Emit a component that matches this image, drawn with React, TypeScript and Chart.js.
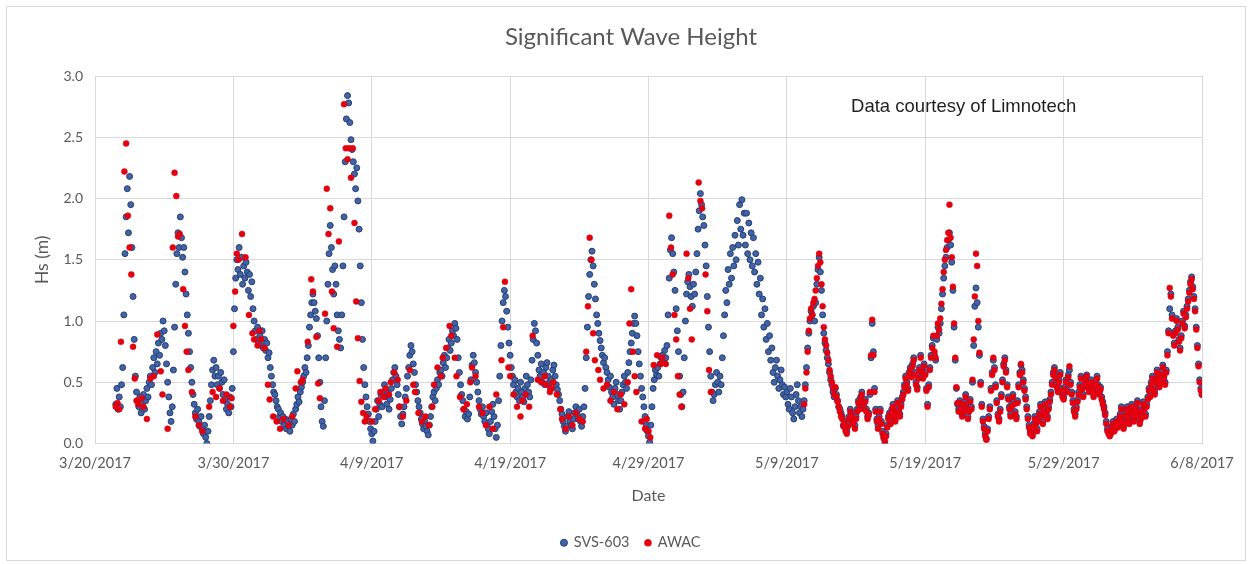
import React, { useEffect, useRef } from "react";
import { Chart, registerables } from "chart.js";

Chart.register(...registerables);

const _ = null;

// Day 0 of the x axis
const DATE_ORIGIN = Date.UTC(2017, 2, 20);

const chartTitle = "Significant Wave Height";
const xTitle = "Date";
const yTitle = "Hs (m)";
const noteText = "Data courtesy of Limnotech";
const seriesNames = ["SVS-603", "AWAC"];

const xMinDay = 0;
const xMaxDay = 80;
const xTickStepDays = 10;
const yMin = 0;
const yMax = 3;
const yTickStep = 0.5;

// SVS-603: 2-hourly samples (12 per day), one row per day starting at day 1 (3/21/2017)
const svsStartDay = 1;
const svsStep = 1 / 12;
const svs603: (number | null)[] = [
  _, _, _, _, _, _, 0.32, 0.45, 0.28, 0.38, 0.30, 0.48,
  0.62, 1.05, 1.55, 1.85, 2.08, 1.72, 2.18, 1.95, 1.60, 1.20, 0.85, 0.55,
  0.42, 0.35, 0.30, 0.38, 0.25, 0.33, 0.40, 0.28, 0.35, 0.45, 0.38, 0.50,
  0.55, 0.48, 0.62, 0.70, 0.58, 0.75, 0.65, 0.82, 0.72, 0.90, 0.85, 1.00,
  0.92, 0.80, 0.65, 0.50, 0.38, 0.25, 0.18, 0.30, 0.60, 0.95, 1.30, 1.55,
  1.72, 1.60, 1.85, 1.68, 1.52, 1.60, 1.40, 1.22, 1.05, 0.90, 0.75, 0.62,
  0.50, 0.40, 0.32, 0.25, 0.20, 0.28, 0.18, 0.14, 0.22, 0.12, 0.08, 0.15,
  0.05, 0.00, 0.10, 0.22, 0.35, 0.48, 0.60, 0.68, 0.55, 0.62, 0.48, 0.55,
  0.45, 0.58, 0.50, 0.40, 0.52, 0.35, 0.28, 0.32, 0.25, 0.38, 0.30, 0.45,
  0.75, 1.10, 1.35, 1.50, 1.42, 1.60, 1.38, 1.52, 1.30, 1.45, 1.35, 1.48,
  1.40, 1.25, 1.38, 1.20, 1.32, 1.10, 1.00, 0.92, 0.85, 0.95, 0.82, 0.88,
  0.80, 0.92, 0.78, 0.85, 0.76, 0.82, 0.70, 0.74, 0.62, 0.55, 0.48, 0.42,
  0.40, 0.35, 0.30, 0.28, 0.22, 0.25, 0.18, 0.22, 0.15, 0.20, 0.12, 0.18,
  0.14, 0.10, 0.20, 0.15, 0.24, 0.18, 0.28, 0.32, 0.38, 0.34, 0.42, 0.46,
  0.50, 0.55, 0.62, 0.58, 0.70, 0.80, 0.95, 1.05, 1.15, 1.22, 1.15, 1.08,
  1.02, 0.88, 0.70, 0.50, 0.30, 0.18, 0.14, 0.35, 0.70, 1.00, 1.30, 1.55,
  1.78, 1.60, 1.42, 1.22, 1.45, 1.30, 1.05, 0.92, 0.85, 0.78, 1.05, 1.45,
  1.85, 2.30, 2.65, 2.84, 2.78, 2.62, 2.48, 2.40, 2.30, 2.20, 2.08, 2.25,
  1.98, 1.75, 1.45, 1.15, 0.85, 0.62, 0.48, 0.38, 0.30, 0.24, 0.18, 0.12,
  0.08, 0.02, 0.10, 0.18, 0.28, 0.35, 0.22, 0.32, 0.40, 0.30, 0.42, 0.48,
  0.38, 0.32, 0.42, 0.28, 0.36, 0.45, 0.52, 0.58, 0.62, 0.55, 0.48, 0.40,
  0.30, 0.22, 0.16, 0.24, 0.30, 0.38, 0.45, 0.55, 0.62, 0.72, 0.80, 0.75,
  0.65, 0.58, 0.48, 0.42, 0.35, 0.30, 0.25, 0.20, 0.16, 0.12, 0.18, 0.14,
  0.10, 0.07, 0.15, 0.22, 0.30, 0.38, 0.42, 0.35, 0.45, 0.52, 0.48, 0.58,
  0.60, 0.55, 0.66, 0.72, 0.62, 0.70, 0.78, 0.85, 0.76, 0.82, 0.92, 0.88,
  0.98, 0.94, 0.85, 0.70, 0.58, 0.48, 0.40, 0.35, 0.28, 0.22, 0.26, 0.20,
  0.24, 0.38, 0.52, 0.64, 0.72, 0.66, 0.58, 0.50, 0.42, 0.35, 0.28, 0.24,
  0.30, 0.22, 0.18, 0.25, 0.15, 0.12, 0.08, 0.18, 0.26, 0.32, 0.22, 0.12,
  0.05, 0.15, 0.35, 0.55, 0.80, 1.00, 1.15, 1.25, 1.20, 1.08, 0.95, 0.82,
  0.72, 0.62, 0.55, 0.48, 0.52, 0.42, 0.38, 0.45, 0.35, 0.50, 0.42, 0.38,
  0.34, 0.45, 0.55, 0.48, 0.42, 0.38, 0.52, 0.68, 0.85, 0.98, 0.92, 0.82,
  0.72, 0.60, 0.55, 0.65, 0.50, 0.58, 0.48, 0.62, 0.66, 0.55, 0.50, 0.45,
  0.52, 0.60, 0.64, 0.55, 0.48, 0.44, 0.40, 0.35, 0.28, 0.24, 0.18, 0.14,
  0.10, 0.14, 0.22, 0.26, 0.18, 0.15, 0.12, 0.20, 0.25, 0.30, 0.24, 0.20,
  0.28, 0.18, 0.14, 0.22, 0.30, 0.45, 0.70, 0.95, 1.20, 1.38, 1.50, 1.57,
  1.45, 1.30, 1.18, 1.05, 0.98, 0.90, 0.84, 0.78, 0.72, 0.66, 0.70, 0.62,
  0.58, 0.52, 0.46, 0.55, 0.42, 0.38, 0.32, 0.45, 0.50, 0.40, 0.35, 0.28,
  0.35, 0.42, 0.48, 0.55, 0.50, 0.45, 0.58, 0.66, 0.75, 0.82, 0.90, 0.98,
  1.04, 0.98, 0.88, 0.75, 0.65, 0.55, 0.45, 0.38, 0.30, 0.22, 0.15, 0.10,
  0.06, 0.01, 0.15, 0.30, 0.45, 0.52, 0.60, 0.56, 0.62, 0.55, 0.65, 0.70,
  0.72, 0.68, 0.76, 0.70, 0.80, 1.05, 1.35, 1.58, 1.68, 1.55, 1.40, 1.25,
  1.10, 0.92, 0.75, 0.55, 0.40, 0.30, 0.42, 0.70, 1.00, 1.22, 1.32, 1.38,
  1.28, 1.20, 1.12, 1.30, 1.22, 1.40, 1.55, 1.75, 1.90, 2.04, 1.95, 1.85,
  1.78, 1.62, 1.45, 1.20, 0.95, 0.75, 0.55, 0.42, 0.35, 0.40, 0.48, 0.58,
  0.50, 0.42, 0.55, 0.48, 0.70, 0.88, 1.05, 1.25, 1.15, 1.42, 1.30, 1.55,
  1.35, 1.60, 1.45, 1.70, 1.50, 1.82, 1.62, 1.95, 1.75, 1.99, 1.70, 1.88,
  1.62, 1.88, 1.55, 1.80, 1.50, 1.72, 1.45, 1.68, 1.40, 1.55, 1.30, 1.48,
  1.22, 1.35, 1.05, 1.18, 0.95, 1.10, 0.85, 0.98, 0.75, 0.88, 0.68, 0.78,
  0.58, 0.50, 0.62, 0.68, 0.55, 0.45, 0.52, 0.60, 0.48, 0.40, 0.46, 0.38,
  0.42, 0.32, 0.28, 0.45, 0.38, 0.25, 0.20, 0.30, 0.40, 0.48, 0.35, 0.25,
  0.30, 0.22, 0.28, 0.35, 0.48, 0.62, 0.78, 0.90, 1.00, 1.08, 1.05, 1.12,
  1.00, 1.15, 1.30, 1.42, 1.52, 1.40, 1.25, 1.05, 0.90, 0.82, 0.76, 0.70,
  0.65, 0.58, 0.52, 0.48, 0.42, 0.38, 0.45, 0.40, 0.35, 0.30, 0.28, 0.25,
  0.22, 0.15, 0.18, 0.12, 0.10, 0.16, 0.22, 0.28, 0.25, 0.18, 0.20, 0.15,
  0.22, 0.28, 0.35, 0.30, 0.38, 0.42, 0.35, 0.30, 0.36, 0.28, 0.22, 0.25,
  0.40, 0.70, 0.98, 0.75, 0.45, 0.28, 0.20, 0.15, 0.22, 0.28, 0.18, 0.10,
  0.05, 0.00, 0.08, 0.15, 0.22, 0.25, 0.18, 0.28, 0.32, 0.24, 0.20, 0.28,
  0.35, 0.28, 0.24, 0.32, 0.38, 0.42, 0.48, 0.55, 0.50, 0.45, 0.58, 0.62,
  0.56, 0.65, 0.70, 0.58, 0.50, 0.46, 0.55, 0.62, 0.72, 0.60, 0.55, 0.65,
  0.58, 0.45, 0.32, 0.48, 0.62, 0.72, 0.80, 0.86, 0.72, 0.68, 0.85, 0.95,
  0.90, 0.98, 1.10, 1.22, 1.35, 1.45, 1.52, 1.60, 1.66, 1.72, 1.62, 1.48,
  1.25, 0.95, 0.68, 0.45, 0.32, 0.28, 0.35, 0.30, 0.24, 0.28, 0.34, 0.40,
  0.30, 0.22, 0.28, 0.36, 0.30, 0.50, 0.80, 1.12, 1.27, 1.15, 0.95, 0.72,
  0.50, 0.32, 0.20, 0.14, 0.08, 0.04, 0.12, 0.22, 0.30, 0.45, 0.58, 0.68,
  0.62, 0.48, 0.35, 0.24, 0.20, 0.28, 0.40, 0.52, 0.65, 0.70, 0.60, 0.48,
  0.38, 0.30, 0.24, 0.32, 0.40, 0.34, 0.26, 0.22, 0.35, 0.48, 0.58, 0.64,
  0.60, 0.52, 0.45, 0.38, 0.30, 0.22, 0.15, 0.10, 0.12, 0.08, 0.16, 0.22,
  0.18, 0.12, 0.20, 0.26, 0.32, 0.24, 0.18, 0.28, 0.34, 0.26, 0.22, 0.30,
  0.36, 0.42, 0.50, 0.58, 0.62, 0.55, 0.48, 0.44, 0.52, 0.58, 0.45, 0.40,
  0.38, 0.46, 0.52, 0.44, 0.56, 0.60, 0.50, 0.42, 0.35, 0.28, 0.24, 0.30,
  0.36, 0.42, 0.48, 0.55, 0.46, 0.40, 0.48, 0.52, 0.56, 0.50, 0.44, 0.48,
  0.52, 0.46, 0.40, 0.44, 0.50, 0.55, 0.48, 0.42, 0.46, 0.38, 0.34, 0.30,
  0.25, 0.18, 0.12, 0.10, 0.07, 0.10, 0.14, 0.18, 0.12, 0.16, 0.20, 0.15,
  0.18, 0.24, 0.30, 0.20, 0.14, 0.18, 0.25, 0.30, 0.22, 0.18, 0.26, 0.32,
  0.28, 0.20, 0.24, 0.30, 0.35, 0.26, 0.18, 0.22, 0.28, 0.34, 0.30, 0.24,
  0.32, 0.38, 0.45, 0.40, 0.50, 0.55, 0.46, 0.42, 0.52, 0.60, 0.55, 0.48,
  0.52, 0.58, 0.64, 0.55, 0.50, 0.60, 0.75, 0.92, 1.10, 1.22, 1.05, 0.90,
  0.82, 0.92, 1.02, 0.95, 0.85, 0.78, 0.88, 1.00, 1.08, 0.96, 1.05, 1.12,
  1.18, 1.25, 1.32, 1.36, 1.28, 1.20, 1.10, 0.95, 0.80, 0.65, 0.52, 0.45,
  0.40,
];

// AWAC, first part (3-hourly, with gaps), one row per day starting at day 1
const awacSpringStartDay = 1;
const awacSpringStep = 0.125;
const awacSpring: (number | null)[] = [
  _, _, _, _, 0.30, 0.33, 0.28, 0.83,
  _, 2.22, 2.45, 1.86, 1.60, 1.38, 0.79, 0.53,
  0.35, 0.32, _, 0.37, 0.30, _, 0.20, _,
  0.53, _, 0.55, _, 0.89, _, 0.59, 0.40,
  _, _, 0.12, _, _, 1.60, 2.21, 2.02,
  1.69, 1.71, _, 1.26, 0.96, 0.75, 0.60, _,
  0.42, _, 0.22, _, 0.15, _, 0.10, _,
  _, _, 0.30, _, 0.42, _, 0.38, _,
  0.45, _, 0.35, _, 0.40, _, 0.30, 0.37,
  0.96, 1.24, 1.55, 1.50, _, 1.71, _, 1.52,
  _, 1.05, _, 0.90, 0.85, _, 0.80, 0.92,
  0.85, _, 0.78, _, 0.48, 0.36, _, 0.22,
  _, 0.18, _, 0.12, _, 0.20, _, _,
  0.15, _, 0.22, _, 0.45, 0.59, _, 0.50,
  0.52, _, _, 0.83, _, 1.34, 1.24, _,
  0.87, 0.49, 0.37, _, _, 1.06, 2.08, 1.71,
  1.92, 1.24, 0.94, _, 0.79, 1.65, _, _,
  2.77, 2.41, 2.32, 2.41, 2.17, 2.41, 1.80, 1.16,
  0.86, 0.51, 0.34, 0.25, 0.18, 0.22, _, _,
  0.18, _, 0.28, _, 0.35, 0.42, _, 0.38,
  0.45, _, 0.40, 0.50, _, 0.58, _, 0.52,
  0.30, _, 0.22, _, 0.35, _, 0.60, _,
  0.48, 0.42, _, 0.25, _, 0.18, _, 0.22,
  _, 0.15, _, 0.30, 0.48, _, 0.62, _,
  0.55, 0.70, _, 0.78, _, 0.96, 0.88, _,
  0.70, 0.55, _, 0.38, _, 0.28, _, 0.32,
  _, 0.50, 0.62, _, 0.55, _, 0.30, _,
  0.25, _, 0.15, _, 0.30, _, 0.12, _,
  0.40, _, _, 0.68, 0.95, 1.32, _, 0.62,
  0.55, _, 0.40, _, 0.30, _, 0.22, 0.35,
  _, 0.40, _, 0.30, _, 0.88, _, _,
  0.52, _, 0.50, _, 0.55, 0.48, _, 0.42,
  0.45, 0.50, _, 0.40, _, 0.28, 0.20, _,
  0.12, _, 0.22, _, 0.15, _, 0.25, _,
  0.20, _, 0.18, _, 0.75, 1.12, 1.68, 1.50,
  0.90, 0.68, _, 0.60, 0.52, _, 0.45, _,
  0.48, _, 0.35, _, 0.42, _, 0.28, _,
  0.40, _, 0.32, _, 0.50, 0.98, 1.26, 0.75,
  0.55, 0.42, _, _, 0.18, _, 0.12, 0.20,
  0.10, 0.05, _, 0.64, _, 0.72, _, 0.65,
  0.70, _, 0.65, _, 1.86, 1.60, 1.38, 1.05,
  0.85, 0.55, 0.40, 0.30, _, _, 1.55, 1.35,
  1.10, 0.85, _, _, _, 2.13, 1.98, 1.92,
  _, 1.38, 1.08, 0.60, 0.42, _, _, _,
];

// AWAC after its data gap: 2-hourly, one row per day starting at day 51 (5/11/2017)
const awacLateStartDay = 51;
const awacLateStep = 1 / 12;
const awacLate: (number | null)[] = [
  _, _, _, 0.32, 0.45, 0.58, 0.75, 0.92, 1.02, 1.10, 1.05, 1.15,
  1.18, 1.25, 1.35, 1.45, 1.55, 1.48, 1.30, 1.12, 0.95, 0.85, 0.80, 0.74,
  0.68, 0.60, 0.55, 0.50, 0.45, 0.40, 0.46, 0.38, 0.34, 0.30, 0.26, 0.22,
  0.20, 0.14, 0.16, 0.10, 0.08, 0.14, 0.20, 0.26, 0.22, 0.16, 0.18, 0.12,
  0.20, 0.26, 0.33, 0.28, 0.36, 0.40, 0.33, 0.28, 0.34, 0.26, 0.20, 0.23,
  0.42, 0.72, 1.01, 0.72, 0.42, 0.26, 0.18, 0.12, 0.20, 0.26, 0.16, 0.08,
  0.04, 0.02, 0.06, 0.13, 0.20, 0.23, 0.16, 0.26, 0.30, 0.22, 0.18, 0.26,
  0.33, 0.26, 0.22, 0.30, 0.36, 0.40, 0.46, 0.53, 0.48, 0.43, 0.56, 0.60,
  0.54, 0.63, 0.68, 0.56, 0.48, 0.44, 0.53, 0.60, 0.70, 0.58, 0.53, 0.63,
  0.56, 0.43, 0.30, 0.46, 0.60, 0.70, 0.78, 0.88, 0.75, 0.70, 0.88, 0.98,
  0.93, 1.02, 1.14, 1.26, 1.40, 1.50, 1.58, 1.66, 1.72, 1.95, 1.68, 1.52,
  1.28, 0.98, 0.70, 0.46, 0.33, 0.26, 0.33, 0.28, 0.22, 0.26, 0.32, 0.38,
  0.28, 0.20, 0.26, 0.34, 0.28, 0.52, 0.85, 1.20, 1.55, 1.45, 1.00, 0.74,
  0.48, 0.30, 0.18, 0.12, 0.06, 0.03, 0.10, 0.20, 0.28, 0.43, 0.56, 0.70,
  0.60, 0.46, 0.33, 0.22, 0.18, 0.26, 0.38, 0.50, 0.63, 0.68, 0.58, 0.46,
  0.36, 0.28, 0.22, 0.30, 0.38, 0.32, 0.24, 0.20, 0.33, 0.46, 0.56, 0.65,
  0.58, 0.50, 0.43, 0.36, 0.28, 0.20, 0.13, 0.08, 0.10, 0.06, 0.14, 0.20,
  0.16, 0.10, 0.18, 0.24, 0.30, 0.22, 0.16, 0.26, 0.32, 0.24, 0.20, 0.28,
  0.34, 0.40, 0.48, 0.56, 0.60, 0.53, 0.46, 0.42, 0.50, 0.56, 0.43, 0.38,
  0.36, 0.44, 0.50, 0.42, 0.54, 0.63, 0.48, 0.40, 0.33, 0.26, 0.22, 0.28,
  0.34, 0.40, 0.46, 0.53, 0.44, 0.38, 0.46, 0.50, 0.55, 0.48, 0.42, 0.46,
  0.50, 0.44, 0.38, 0.42, 0.48, 0.53, 0.46, 0.40, 0.44, 0.36, 0.32, 0.28,
  0.23, 0.16, 0.10, 0.08, 0.06, 0.08, 0.12, 0.16, 0.10, 0.14, 0.18, 0.13,
  0.16, 0.22, 0.28, 0.18, 0.12, 0.16, 0.23, 0.28, 0.20, 0.16, 0.24, 0.30,
  0.26, 0.18, 0.22, 0.28, 0.33, 0.24, 0.16, 0.20, 0.26, 0.32, 0.28, 0.22,
  0.30, 0.36, 0.43, 0.38, 0.48, 0.53, 0.44, 0.40, 0.50, 0.58, 0.53, 0.46,
  0.50, 0.56, 0.62, 0.53, 0.48, 0.58, 0.72, 0.90, 1.27, 1.20, 1.02, 0.88,
  0.80, 0.90, 1.00, 0.93, 0.83, 0.76, 0.86, 0.98, 1.06, 0.94, 1.03, 1.10,
  1.16, 1.23, 1.30, 1.34, 1.26, 1.18, 1.08, 0.93, 0.78, 0.63, 0.50, 0.43,
  0.40,
];

type Pt = { x: number; y: number };

function toPoints(values: (number | null)[], startDay: number, step: number): Pt[] {
  const out: Pt[] = [];
  values.forEach((v, i) => {
    if (v !== null) out.push({ x: startDay + i * step, y: v });
  });
  return out;
}

function formatDay(day: number): string {
  const d = new Date(DATE_ORIGIN + Math.round(day * 86400000));
  return `${d.getUTCMonth() + 1}/${d.getUTCDate()}/${d.getUTCFullYear()}`;
}

const FONT = 'Lato, "Open Sans", sans-serif';
const TEXT_GREY = "#595959";
const GRID = "#D9D9D9";

const notePlugin = {
  id: "notePlugin",
  afterDraw(chart: any) {
    const { ctx, chartArea } = chart;
    ctx.save();
    ctx.font = '18.5px "Liberation Sans", Arial, sans-serif';
    ctx.fillStyle = "#1F1F1F";
    ctx.textAlign = "left";
    ctx.textBaseline = "middle";
    const x = chartArea.left + (chartArea.right - chartArea.left) * 0.683;
    const y = chartArea.top + (chartArea.bottom - chartArea.top) * 0.085;
    ctx.fillText(noteText, x, y);
    ctx.restore();
  },
};

export default function App() {
  const canvasRef = useRef<HTMLCanvasElement | null>(null);

  useEffect(() => {
    if (!canvasRef.current) return;
    const svsPoints = toPoints(svs603, svsStartDay, svsStep);
    const awacPoints = [
      ...toPoints(awacSpring, awacSpringStartDay, awacSpringStep),
      ...toPoints(awacLate, awacLateStartDay, awacLateStep),
    ];

    const chart = new Chart(canvasRef.current, {
      type: "scatter",
      data: {
        datasets: [
          {
            label: seriesNames[0],
            data: svsPoints,
            order: 2,
            pointRadius: 3,
            pointHoverRadius: 3,
            backgroundColor: "#4263A6",
            borderColor: "#253F73",
            borderWidth: 1,
          },
          {
            label: seriesNames[1],
            data: awacPoints,
            order: 1,
            pointRadius: 3,
            pointHoverRadius: 3,
            backgroundColor: "#E3000F",
            borderColor: "#E3000F",
            borderWidth: 0.5,
          },
        ],
      },
      options: {
        animation: false,
        responsive: false,
        maintainAspectRatio: false,
        layout: { padding: { left: 24, right: 14, top: 0, bottom: 0 } },
        plugins: {
          title: {
            display: true,
            text: chartTitle,
            color: TEXT_GREY,
            font: { family: FONT, size: 24, weight: "normal" },
            padding: { top: 16, bottom: 24.2 },
          },
          legend: {
            display: true,
            position: "bottom",
            labels: {
              color: TEXT_GREY,
              font: { family: FONT, size: 14.5 },
              usePointStyle: true,
              pointStyle: "circle",
              boxWidth: 5,
              boxHeight: 5,
              padding: 16,
              sort: (a: any, b: any) => a.datasetIndex - b.datasetIndex,
            },
          },
          tooltip: { enabled: false },
        },
        scales: {
          x: {
            type: "linear",
            min: xMinDay,
            max: xMaxDay,
            afterFit: (scale: any) => {
              scale.height = 76;
            },
            ticks: {
              stepSize: xTickStepDays,
              autoSkip: false,
              maxRotation: 0,
              padding: 11,
              color: TEXT_GREY,
              font: { family: FONT, size: 14.5 },
              callback: (v: any) => formatDay(Number(v)),
            },
            grid: { color: GRID, lineWidth: 1, drawTicks: false },
            border: { display: true, color: GRID },
            title: {
              display: true,
              text: xTitle,
              color: TEXT_GREY,
              font: { family: FONT, size: 16 },
              padding: { top: 4, bottom: 14.4 },
            },
          },
          y: {
            type: "linear",
            position: "left",
            min: yMin,
            max: yMax,
            afterFit: (scale: any) => {
              scale.width = 64;
            },
            ticks: {
              stepSize: yTickStep,
              padding: 12,
              color: TEXT_GREY,
              font: { family: FONT, size: 14 },
              callback: (v: any) => Number(v).toFixed(1),
            },
            grid: { color: GRID, lineWidth: 1, drawTicks: false },
            border: { display: true, color: GRID },
            title: {
              display: true,
              text: yTitle,
              color: TEXT_GREY,
              font: { family: FONT, size: 17.5 },
              padding: { top: 1, bottom: 4 },
            },
          },
          // empty right-hand margin so the title and legend sit where Excel put them
          yMargin: {
            type: "linear",
            position: "right",
            min: yMin,
            max: yMax,
            display: true,
            afterFit: (scale: any) => {
              scale.width = 29;
            },
            ticks: { display: false },
            grid: { display: false, drawOnChartArea: false, drawTicks: false },
            border: { display: false },
          },
        },
      },
      plugins: [notePlugin],
    });

    return () => chart.destroy();
  }, []);

  return (
    <div style={{ position: "fixed", left: 6, top: 6, width: 1240, height: 555 }}>
      <div
        style={{
          position: "absolute",
          left: 0,
          top: 0,
          width: 1240,
          height: 555,
          border: "1px solid #D9D9D9",
          boxSizing: "border-box",
          background: "#ffffff",
        }}
      />
      <canvas
        ref={canvasRef}
        width={1238}
        height={553}
        style={{ position: "absolute", left: 1, top: 1, display: "block" }}
      />
    </div>
  );
}
